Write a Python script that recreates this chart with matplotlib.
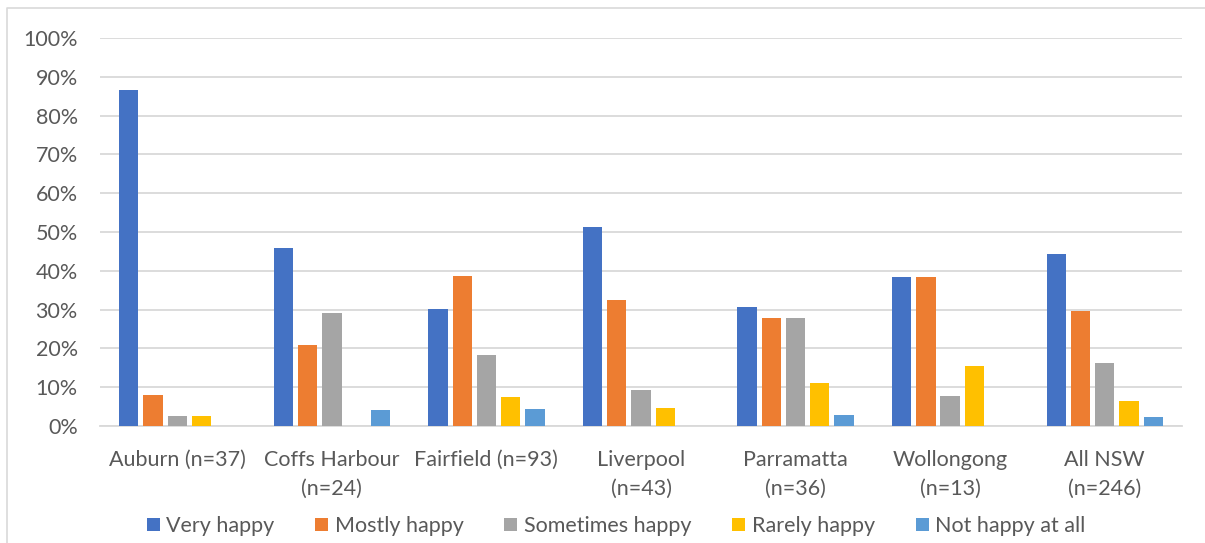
import matplotlib
matplotlib.use("Agg")
import matplotlib.pyplot as plt
import numpy as np
from matplotlib.lines import Line2D

categories = ["Auburn (n=37)", "Coffs Harbour\n(n=24)", "Fairfield (n=93)", "Liverpool\n(n=43)",
              "Parramatta\n(n=36)", "Wollongong\n(n=13)", "All NSW\n(n=246)"]
series_names = ["Very happy", "Mostly happy", "Sometimes happy", "Rarely happy", "Not happy at all"]
very_happy = [86.5, 45.8, 30.1, 51.2, 30.6, 38.5, 44.3]
mostly_happy = [8.1, 20.8, 38.7, 32.6, 27.8, 38.5, 29.7]
sometimes_happy = [2.7, 29.2, 18.3, 9.3, 27.8, 7.7, 16.3]
rarely_happy = [2.7, 0.0, 7.5, 4.7, 11.1, 15.4, 6.5]
not_happy = [0.0, 4.2, 4.3, 0.0, 2.8, 0.0, 2.4]
colors = ["#4472C4", "#ED7D31", "#A5A5A5", "#FFC000", "#5B9BD5"]

plt.rcParams['font.family'] = ['Lato', 'DejaVu Sans']
W, H = 1205, 543
fig = plt.figure(figsize=(W/100, H/100), dpi=100)
ax = fig.add_axes([100/W, 1-426/H, (1182-100)/W, (426-38)/H])

data = [very_happy, mostly_happy, sometimes_happy, rarely_happy, not_happy]
x = np.arange(len(categories))
pitch = 0.157
bw = 0.125
for i, (vals, c, name) in enumerate(zip(data, colors, series_names)):
    ax.bar(x + (i - 2) * pitch, vals, width=bw, color=c, label=name, zorder=3)

ax.set_xlim(-0.5, len(categories) - 0.5)
ax.set_ylim(0, 100)
ax.set_yticks(np.arange(0, 101, 10))
ax.set_yticklabels([f"{v}%" for v in range(0, 101, 10)])
ax.yaxis.grid(True, color="#D9D9D9", linewidth=1.3, zorder=0)
ax.set_xticks(x)
ax.set_xticklabels(categories, linespacing=1.6)
for s in ["top", "right", "left"]:
    ax.spines[s].set_visible(False)
ax.spines["bottom"].set_color("#D9D9D9")
ax.spines["bottom"].set_linewidth(1.3)
ax.tick_params(axis="both", length=0, colors="#595959", labelsize=15.5)
ax.tick_params(axis="x", pad=17)
ax.tick_params(axis="y", pad=16)

leg = fig.legend(loc="center", bbox_to_anchor=(616/W, 1-526/H), ncol=5, frameon=False,
                 fontsize=15.5, handlelength=0.6, handleheight=0.6, handletextpad=0.3,
                 columnspacing=1.9)
for t in leg.get_texts():
    t.set_color("#595959")

fig.add_artist(Line2D([7/W, 7/W, 1], [0, 1 - 8/H, 1 - 8/H], transform=fig.transFigure,
                      color="#D9D9D9", linewidth=1.2))
fig.savefig("out.png", dpi=100, facecolor="white")
